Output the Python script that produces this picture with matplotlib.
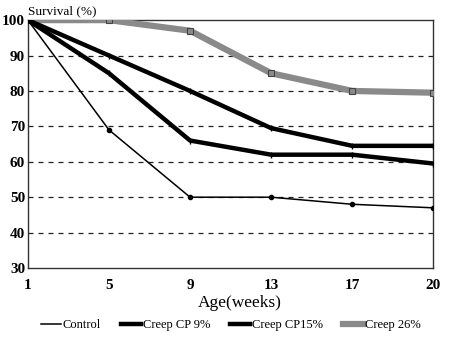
import matplotlib
matplotlib.use("Agg")
import matplotlib.pyplot as plt
from matplotlib.lines import Line2D

weeks = ["1", "5", "9", "13", "17", "20"]
control = [100, 69, 50, 50, 48, 47]
creep_cp9 = [100, 90, 80, 69.5, 64.5, 64.5]
creep_cp15 = [100, 85, 66, 62, 62, 59.5]
creep_26 = [100, 100, 97, 85, 80, 79.5]
y_ticks = [30, 40, 50, 60, 70, 80, 90, 100]

plt.rcParams['font.family'] = ['Liberation Serif', 'DejaVu Serif']

fig = plt.figure(figsize=(4.5, 3.41), dpi=100)
ax = fig.add_axes([0.062, 0.214, 0.901, 0.727])

x = list(range(len(weeks)))

for g in y_ticks[1:-1]:
    ax.axhline(g, color='#222222', lw=0.9, ls=(0, (4, 4)), zorder=1)

ax.plot(x, creep_26, color='#8a8a8a', lw=4.5, marker='s', ms=5,
        mfc='#8a8a8a', mec='#444444', mew=0.8, zorder=3)
ax.plot(x, creep_cp9, color='black', lw=3.2, marker='|', ms=5, zorder=4)
ax.plot(x, creep_cp15, color='black', lw=3.2, marker='|', ms=5, zorder=4)
ax.plot(x, control, color='black', lw=1.1, marker='o', ms=3, zorder=5)

ax.set_xlim(0, len(weeks) - 1)
ax.set_ylim(30, 100)
ax.set_xticks(x)
ax.set_xticklabels(weeks, fontsize=11, fontweight='bold')
ax.set_yticks(y_ticks)
ax.set_yticklabels([str(v) for v in y_ticks], fontsize=11, fontweight='bold')
ax.tick_params(axis='both', length=0, pad=8)
ax.tick_params(axis='y', pad=2)
for s in ax.spines.values():
    s.set_color('#333333')
    s.set_linewidth(1.0)

ax.text(0.0, 1.01, "Survival (%)", transform=ax.transAxes, fontsize=9.5,
        ha='left', va='bottom')
ax.set_xlabel("Age(weeks)", fontsize=12.5, labelpad=4)
ax.xaxis.set_label_coords(0.522, -0.11)

handles = [
    Line2D([], [], color='black', lw=1.1),
    Line2D([], [], color='black', lw=3.2),
    Line2D([], [], color='black', lw=3.2),
    Line2D([], [], color='#8a8a8a', lw=4.5),
]
labels = ["Control", "Creep CP 9%", "Creep CP15%", "Creep 26%"]
fig.legend(handles, labels, loc='center', bbox_to_anchor=(0.513, 0.047), ncol=4,
           frameon=False, fontsize=9, handlelength=1.6, handletextpad=0.15,
           columnspacing=1.6)

fig.savefig("out.png", dpi=100)
